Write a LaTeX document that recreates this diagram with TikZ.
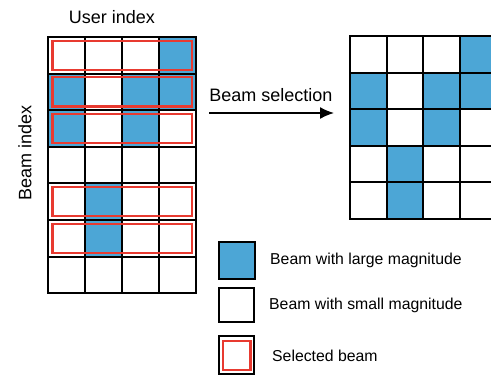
\documentclass[tikz,border=0pt]{standalone}
\usepackage{fontspec}
\setmainfont{Liberation Sans}
\usetikzlibrary{arrows.meta}
\definecolor{beamblue}{RGB}{76,166,214}
\definecolor{selred}{RGB}{232,58,48}
\tikzset{
    cell/.style={draw=black,line width=1.9bp},
    strong/.style={fill=beamblue},
    selbox/.style={draw=selred,line width=2.2bp},
    bigtext/.style={font=\fontsize{18bp}{21bp}\selectfont,inner sep=0pt},
    legtext/.style={font=\fontsize{15.8bp}{18bp}\selectfont,inner sep=0pt,anchor=west}
}
\begin{document}
\begin{tikzpicture}[x=1bp,y=-1bp]
        \clip (0,0) rectangle (491,376);
        \fill[white] (0,0) rectangle (491,376);
        \coordinate (BL) at (48,37);
        \coordinate (BR) at (350,36);
        % labels
        \node[bigtext] (user) at (112,17) {User index};
        \node[bigtext,rotate=90] (beamidx) at (25,153) {Beam index};
        % all beams
        \begin{scope}[shift={(BL)},x=37bp,y=-36.6bp]
            \foreach \c/\r in {3/0,0/1,2/1,3/1,0/2,2/2,1/4,1/5}
                \fill[strong] (\c,\r) rectangle ++(1,1);
            \foreach \c in {0,1,2,3}
                \foreach \r in {0,...,6}
                    \draw[cell] (\c,\r) rectangle ++(1,1);
            \foreach \r in {0,1,2,4,5}
                \draw[selbox] (0.12,\r+0.1) rectangle (3.9,\r+0.9);
        \end{scope}
        % selection
        \coordinate (selstart) at (209,113);
        \coordinate (selend) at (334,113);
        \draw[line width=1.6bp,-{Latex[length=14bp,width=12bp]}] (selstart) -- (selend);
        \node[bigtext] (sel) at (271,95) {Beam selection};
        % selected beams
        \begin{scope}[shift={(BR)},x=36.6bp,y=-36.6bp]
            \foreach \c/\r in {3/0,0/1,2/1,3/1,0/2,2/2,1/3,1/4}
                \fill[strong] (\c,\r) rectangle ++(1,1);
            \foreach \c in {0,1,2,3}
                \foreach \r in {0,...,4}
                    \draw[cell] (\c,\r) rectangle ++(1,1);
        \end{scope}
        % legend
        \draw[cell,strong] (219,242) rectangle (255,279);
        \node[legtext] (large) at (270,260) {Beam with large magnitude};
        \draw[cell] (219,288) rectangle (254,322);
        \node[legtext] (small) at (269,305) {Beam with small magnitude};
        \draw[cell] (219,336) rectangle (254,374);
        \draw[selbox] (223,341) rectangle (250.5,370);
        \node[legtext] (selected) at (272,356) {Selected beam};
    \end{tikzpicture}
\end{document}
